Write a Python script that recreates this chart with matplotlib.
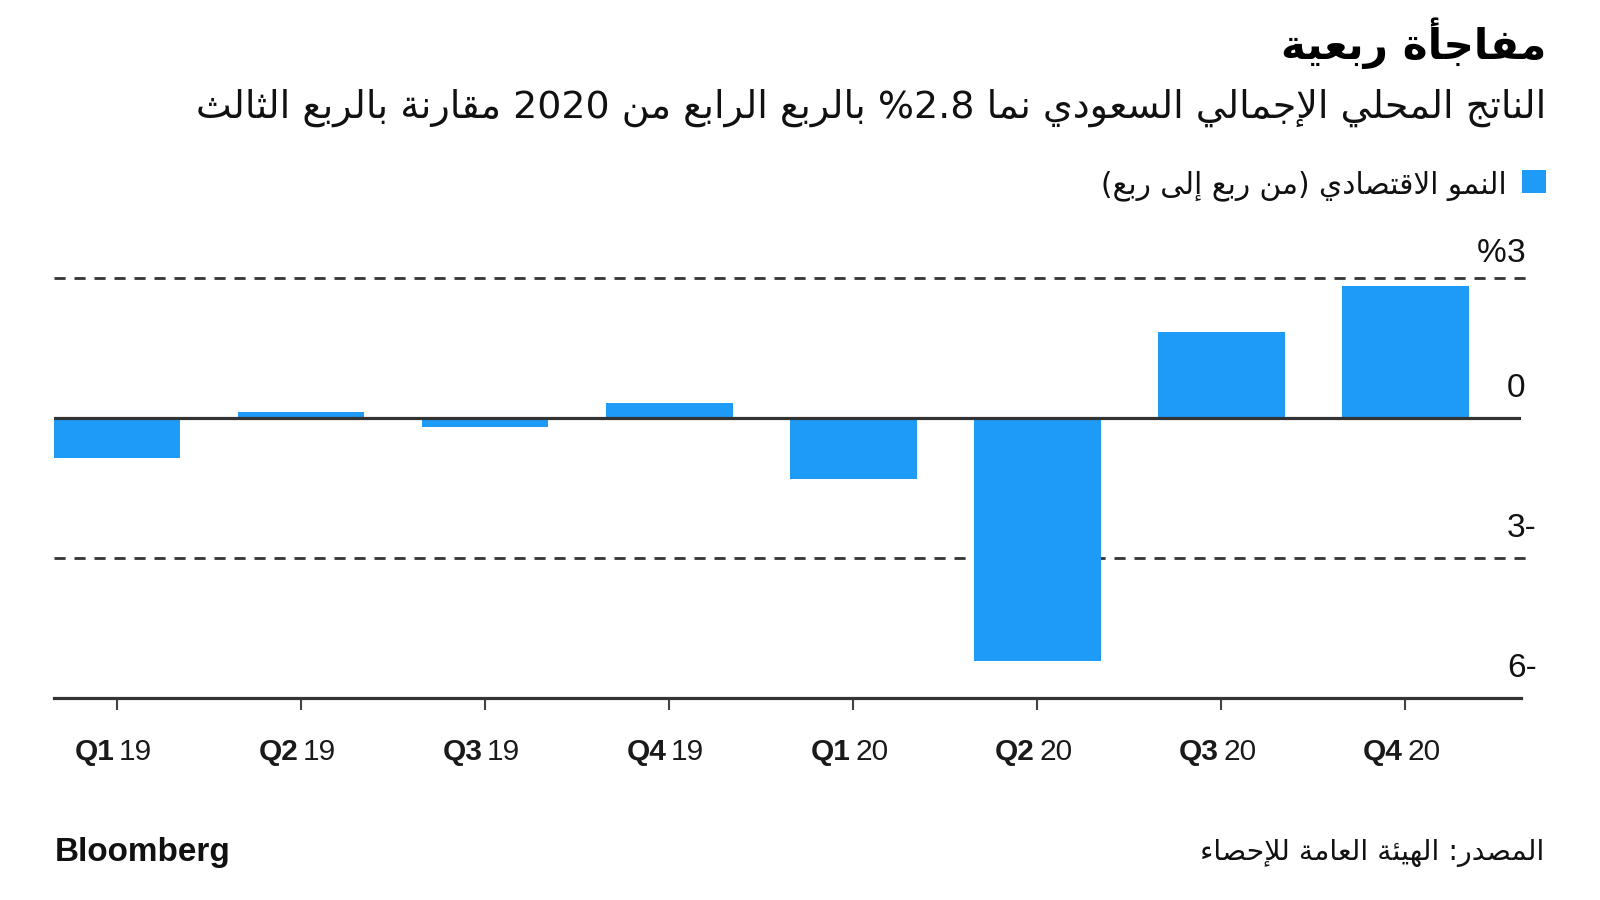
import re
import matplotlib
matplotlib.use("Agg")
import matplotlib.pyplot as plt
from matplotlib.patches import Rectangle

# ---------------- data ----------------
quarters = ["Q1", "Q2", "Q3", "Q4", "Q1", "Q2", "Q3", "Q4"]
years = ["19", "19", "19", "19", "20", "20", "20", "20"]
growth = [-0.85, 0.13, -0.19, 0.32, -1.30, -5.20, 1.85, 2.83]
y_ticks = [3, 0, -3, -6]
y_tick_labels = ["%3", "0", "3-", "6-"]
grid_levels = [3, -3]

title = "مفاجأة ربعية"
subtitle = "الناتج المحلي الإجمالي السعودي نما %2.8 بالربع الرابع من 2020 مقارنة بالربع الثالث"
legend_label = "النمو الاقتصادي (من ربع إلى ربع)"
source = "المصدر: الهيئة العامة للإحصاء"
brand = "Bloomberg"

BLUE = "#1d9bf7"
DARK = "#333333"

# ---------------- minimal Arabic shaping (logical -> visual) ----------------
DUAL = {'\u0626': 0xFE89, '\u0628': 0xFE8F, '\u062A': 0xFE95, '\u062B': 0xFE99,
        '\u062C': 0xFE9D, '\u062D': 0xFEA1, '\u062E': 0xFEA5, '\u0633': 0xFEB1,
        '\u0634': 0xFEB5, '\u0635': 0xFEB9, '\u0636': 0xFEBD, '\u0637': 0xFEC1,
        '\u0638': 0xFEC5, '\u0639': 0xFEC9, '\u063A': 0xFECD, '\u0641': 0xFED1,
        '\u0642': 0xFED5, '\u0643': 0xFED9, '\u0644': 0xFEDD, '\u0645': 0xFEE1,
        '\u0646': 0xFEE5, '\u0647': 0xFEE9, '\u064A': 0xFEF1}
RIGHT = {'\u0622': 0xFE81, '\u0623': 0xFE83, '\u0624': 0xFE85, '\u0625': 0xFE87,
         '\u0627': 0xFE8D, '\u0629': 0xFE93, '\u062F': 0xFEA9, '\u0630': 0xFEAB,
         '\u0631': 0xFEAD, '\u0632': 0xFEAF, '\u0648': 0xFEED, '\u0649': 0xFEEF}
NONJ = {'\u0621': 0xFE80}
LAMALEF = {'\u0622': 0xFEF5, '\u0623': 0xFEF7, '\u0625': 0xFEF9, '\u0627': 0xFEFB}


def shape(s):
    out = []
    i, n = 0, len(s)
    while i < n:
        c = s[i]
        prev = s[i - 1] if i > 0 else ""
        if c == '\u0644' and i + 1 < n and s[i + 1] in LAMALEF:
            base = LAMALEF[s[i + 1]]
            out.append(chr(base + 1 if prev in DUAL else base))
            i += 2
            continue
        nxt = s[i + 1] if i + 1 < n else ""
        if c in DUAL:
            cp = prev in DUAL
            cn = nxt in DUAL or nxt in RIGHT
            base = DUAL[c]
            off = 3 if (cp and cn) else 1 if cp else 2 if cn else 0
            out.append(chr(base + off))
        elif c in RIGHT:
            out.append(chr(RIGHT[c] + (1 if prev in DUAL else 0)))
        elif c in NONJ:
            out.append(chr(NONJ[c]))
        else:
            out.append(c)
        i += 1
    return "".join(out)


def ar(s):
    shaped = shape(s)
    parts = re.findall(r"[0-9.%]+|[^0-9.%]", shaped)
    mirror = {"(": ")", ")": "("}
    return "".join(mirror.get(p, p) for p in reversed(parts))


AR_FONT = ["DejaVu Sans"]
LAT_NARROW = ["Liberation Sans Narrow", "Liberation Sans", "DejaVu Sans"]
LAT = ["Liberation Sans", "DejaVu Sans"]

# ---------------- figure ----------------
fig = plt.figure(figsize=(16, 9), dpi=100)
fig.patch.set_facecolor("white")

W, H = 1600.0, 900.0
ax_left_px, ax_right_px = 53.5, 1521.0
ax_bottom_px, ax_top_px = 698.0, 264.0
ax = fig.add_axes([ax_left_px / W, 1 - ax_bottom_px / H,
                   (ax_right_px - ax_left_px) / W, (ax_bottom_px - ax_top_px) / H])

x = list(range(len(growth)))
ax.bar(x, growth, width=0.69, color=BLUE, zorder=2, linewidth=0)
ax.set_xlim(-0.345, 7.63)
ax.set_ylim(-6, 3.3)

for g in grid_levels:
    ax.axhline(g, xmin=0, xmax=1.0034, color=DARK, lw=2.0,
               linestyle=(0, (4, 3.2)), zorder=1, clip_on=False)
ax.axhline(0, color=DARK, lw=2.3, zorder=3)

for s in ["top", "right", "left"]:
    ax.spines[s].set_visible(False)
ax.spines["bottom"].set_color(DARK)
ax.spines["bottom"].set_linewidth(2.3)
ax.set_yticks([])
ax.set_xticks(x)
ax.set_xticklabels([])
ax.tick_params(axis="x", direction="out", length=8.6, width=1.5, color="#444444")

# x tick labels: bold quarter + regular year
for xi, q, yr in zip(x, quarters, years):
    ax.annotate(q, xy=(xi, 0), xycoords=("data", "axes fraction"),
                xytext=(-1.5, -39), textcoords="offset points",
                ha="right", va="center", fontsize=21.5, fontweight="bold",
                family=LAT_NARROW, color="#1a1a1a")
    ax.annotate(yr, xy=(xi, 0), xycoords=("data", "axes fraction"),
                xytext=(1.5, -39), textcoords="offset points",
                ha="left", va="center", fontsize=21.5,
                family=LAT_NARROW, color="#1a1a1a")

# y labels above gridlines (RTL style: % before number, minus after)
lab_x = (1507 - ax_left_px) / (ax_right_px - ax_left_px)
for yv, lab in zip(y_ticks, y_tick_labels):
    num = lab.lstrip("%")
    dy = 18 if yv == max(y_ticks) else 21.5
    ax.annotate(num, xy=(lab_x, yv), xycoords=("axes fraction", "data"),
                xytext=(0, dy), textcoords="offset points",
                ha="left", va="center", fontsize=24,
                family=LAT, color="#111111", annotation_clip=False)
    if lab.startswith("%"):
        ax.annotate("%", xy=(lab_x, yv), xycoords=("axes fraction", "data"),
                    xytext=(0, dy), textcoords="offset points",
                    ha="right", va="center", fontsize=24,
                    family=LAT, color="#111111", annotation_clip=False)

# texts
t_title = fig.text(1546 / W, 1 - 43 / H, ar(title), ha="right", va="center",
                   fontsize=30, fontweight="bold", family=AR_FONT, color="#000000")
t_sub = fig.text(1546 / W, 1 - 108 / H, ar(subtitle), ha="right", va="center",
                 fontsize=24, family=AR_FONT, color="#111111")
t_leg = fig.text(1507 / W, 1 - 186 / H, ar(legend_label), ha="right", va="center",
                 fontsize=17, family=AR_FONT, color="#111111")
fig.add_artist(Rectangle((1522 / W, 1 - 193 / H), 24 / W, 23 / H,
                         transform=fig.transFigure, facecolor=BLUE, edgecolor="none"))
t_src = fig.text(1544 / W, 1 - 853 / H, ar(source), ha="right", va="center",
                 fontsize=17, family=AR_FONT, color="#111111")
t_brand = fig.text(55 / W, 1 - 852 / H, brand, ha="left", va="center",
                   fontsize=20, fontweight="bold", family=LAT, color="#111111")

# fit text widths to the reference layout
fig.canvas.draw()
rend = fig.canvas.get_renderer()
for t, target in [(t_title, 265), (t_sub, 1355), (t_leg, 405), (t_src, 345), (t_brand, 175)]:
    w = t.get_window_extent(rend).width
    t.set_fontsize(t.get_fontsize() * target / w)

fig.savefig("out.png", dpi=100, facecolor="white")
